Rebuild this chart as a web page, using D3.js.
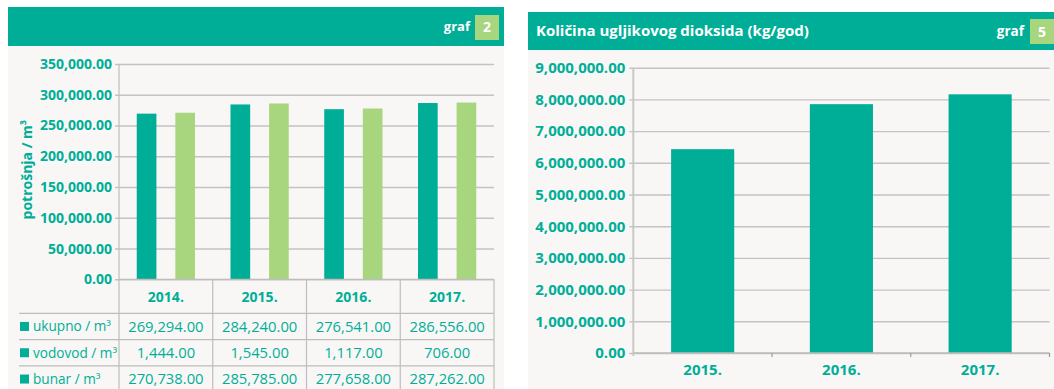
<!DOCTYPE html>
<html>
<head>
<meta charset="utf-8">
<script src="https://cdn.jsdelivr.net/npm/d3@7/dist/d3.min.js"></script>
<style>
  html, body { margin: 0; padding: 0; background: #ffffff; }
  svg { display: block; font-family: "Open Sans", "Noto Sans", sans-serif; }
</style>
</head>
<body>
<svg id="chart" width="1054" height="389"></svg>
<script>
// ---- data: graf 2 (water consumption) ----
const years = ["2014.", "2015.", "2016.", "2017."];
const ukupno = [269294, 284240, 276541, 286556];
const vodovod = [1444, 1545, 1117, 706];
const bunar = [270738, 285785, 277658, 287262];
const consumptionTicks = [0, 50000, 100000, 150000, 200000, 250000, 300000, 350000];
const tableRows = [
  { label: "ukupno / m³", values: ukupno },
  { label: "vodovod / m³", values: vodovod },
  { label: "bunar / m³", values: bunar }
];

// ---- data: graf 5 (CO2 amount) ----
const co2Years = ["2015.", "2016.", "2017."];
const co2Values = [6430000, 7850000, 8160000];
const co2Ticks = [0, 1e6, 2e6, 3e6, 4e6, 5e6, 6e6, 7e6, 8e6, 9e6];

const TEAL = "#00ae98";
const LIGHT = "#a8d67e";
const BG = "#f8f7f5";
const GRID = "#c3c3c3";
const fmt = d3.format(",.2f");

const svg = d3.select("#chart");

// ---------- panel header helper ----------
function header(x0, x1, y0, y1, title) {
  const g = svg.append("g");
  g.append("rect").attr("x", x0).attr("y", y0).attr("width", x1 - x0).attr("height", y1 - y0).attr("fill", TEAL);
  const cy = (y0 + y1) / 2;
  if (title) {
    g.append("text").attr("x", x0 + 8).attr("y", cy).attr("dy", "0.35em")
      .attr("fill", "#fff").attr("font-weight", 700).attr("font-size", 15).text(title);
  }
  return { g, cy };
}

// ================= LEFT PANEL =================
svg.append("rect").attr("x", 8).attr("y", 46).attr("width", 496).attr("height", 350).attr("fill", BG);
{
  const h = header(8, 504, 7, 46, null);
  h.g.append("rect").attr("x", 475).attr("y", 15).attr("width", 24).attr("height", 25).attr("fill", LIGHT);
  h.g.append("text").attr("x", 487).attr("y", h.cy + 1).attr("dy", "0.35em").attr("text-anchor", "middle")
    .attr("fill", "#fff").attr("font-weight", 700).attr("font-size", 14).text("2");
  h.g.append("text").attr("x", 470).attr("y", h.cy).attr("dy", "0.35em").attr("text-anchor", "end")
    .attr("fill", "#fff").attr("font-weight", 700).attr("font-size", 13).text("graf");
}

const plotL = { left: 119, right: 494, top: 64, bottom: 279.3 };
const yL = d3.scaleLinear().domain([0, 350000]).range([plotL.bottom, plotL.top]);
const xL = d3.scaleBand().domain(years).range([plotL.left, plotL.right]);
const xSub = d3.scaleBand().domain(["ukupno", "bunar"]).range([0, xL.bandwidth()])
  .paddingInner(0.49).paddingOuter(0.46);

// gridlines + tick labels (ticks reach 4px left of the axis)
const gridL = svg.append("g").attr("transform", `translate(${plotL.right},0)`)
  .call(d3.axisLeft(yL).tickValues(consumptionTicks).tickFormat(fmt)
    .tickSize(plotL.right - plotL.left + 4).tickPadding(3));
gridL.select(".domain").remove();
gridL.selectAll(".tick line").attr("stroke", GRID).attr("stroke-width", 1.4);
gridL.selectAll(".tick text").attr("fill", TEAL).attr("font-weight", 700).attr("font-size", 14)
  .attr("font-family", "'Open Sans', sans-serif");

// axis title
svg.append("text").attr("transform", `translate(27,${(plotL.top + plotL.bottom) / 2 - 2}) rotate(-90)`)
  .attr("text-anchor", "middle").attr("dy", "0.35em")
  .attr("fill", TEAL).attr("font-weight", 700).attr("font-size", 14).text("potrošnja / m³");

// bars
const series = [
  { key: "ukupno", values: ukupno, color: TEAL },
  { key: "bunar", values: bunar, color: LIGHT }
];
series.forEach(s => {
  svg.append("g").selectAll("rect").data(years).join("rect")
    .attr("x", (d) => xL(d) + xSub(s.key))
    .attr("width", xSub.bandwidth())
    .attr("y", (d, i) => yL(s.values[i]))
    .attr("height", (d, i) => yL(0) - yL(s.values[i]))
    .attr("fill", s.color);
});

// data table under the plot
const rowTop = plotL.bottom;
const headRowH = 34;
const rowH = 26.3;
const tableBottom = rowTop + headRowH + rowH * tableRows.length + 2;
const tableG = svg.append("g");
const lineStyle = sel => sel.attr("stroke", "#bdbdbd").attr("stroke-width", 1.2);

// horizontal rules
tableG.append("line").attr("x1", plotL.left).attr("x2", plotL.right).attr("y1", rowTop).attr("y2", rowTop).call(lineStyle);
tableRows.forEach((r, i) => {
  const y = rowTop + headRowH + rowH * i;
  tableG.append("line").attr("x1", 19).attr("x2", plotL.right).attr("y1", y).attr("y2", y).call(lineStyle);
});
// vertical rules
tableG.append("line").attr("x1", plotL.left).attr("x2", plotL.left).attr("y1", plotL.top).attr("y2", tableBottom).call(lineStyle);
years.forEach(yr => {
  const x = xL(yr) + xL.bandwidth();
  tableG.append("line").attr("x1", x).attr("x2", x).attr("y1", rowTop).attr("y2", tableBottom).call(lineStyle);
});
// column headers
tableG.selectAll("text.year").data(years).join("text").attr("class", "year")
  .attr("x", d => xL(d) + xL.bandwidth() / 2).attr("y", rowTop + headRowH / 2 + 1).attr("dy", "0.35em")
  .attr("text-anchor", "middle").attr("fill", TEAL).attr("font-weight", 700).attr("font-size", 14).text(d => d);
// rows
tableRows.forEach((r, i) => {
  const cy = rowTop + headRowH + rowH * i + rowH / 2;
  tableG.append("rect").attr("x", 20).attr("y", cy - 4.5).attr("width", 9).attr("height", 9).attr("fill", TEAL);
  tableG.append("text").attr("x", 33).attr("y", cy).attr("dy", "0.35em")
    .attr("fill", TEAL).attr("font-size", 13.6).text(r.label);
  tableG.selectAll(null).data(r.values).join("text")
    .attr("x", (d, j) => xL(years[j]) + xL.bandwidth() / 2).attr("y", cy).attr("dy", "0.35em")
    .attr("text-anchor", "middle").attr("fill", TEAL).attr("font-size", 14.8).text(d => fmt(d));
});

// ================= RIGHT PANEL =================
svg.append("rect").attr("x", 528).attr("y", 50).attr("width", 530).attr("height", 345).attr("fill", BG);
{
  const h = header(528, 1058, 12, 50, "Količina ugljikovog dioksida (kg/god)");
  h.g.append("rect").attr("x", 1030).attr("y", 19).attr("width", 30).attr("height", 25).attr("fill", LIGHT);
  h.g.append("text").attr("x", 1042).attr("y", h.cy + 1).attr("dy", "0.35em").attr("text-anchor", "middle")
    .attr("fill", "#fff").attr("font-weight", 700).attr("font-size", 14).text("5");
  h.g.append("text").attr("x", 1024).attr("y", h.cy).attr("dy", "0.35em").attr("text-anchor", "end")
    .attr("fill", "#fff").attr("font-weight", 700).attr("font-size", 13.5).text("graf");
}

const plotR = { left: 633.3, right: 1049.5, top: 67.7, bottom: 353 };
const yR = d3.scaleLinear().domain([0, 9e6]).range([plotR.bottom, plotR.top]);
const xR = d3.scaleBand().domain(co2Years).range([plotR.left, plotR.right])
  .paddingInner(0.545).paddingOuter(0.2725);

const gridR = svg.append("g").attr("transform", `translate(${plotR.right},0)`)
  .call(d3.axisLeft(yR).tickValues(co2Ticks).tickFormat(fmt)
    .tickSize(plotR.right - plotR.left + 4).tickPadding(4));
gridR.select(".domain").remove();
gridR.selectAll(".tick line").attr("stroke", GRID).attr("stroke-width", 1.4);
gridR.selectAll(".tick text").attr("fill", TEAL).attr("font-weight", 700).attr("font-size", 15)
  .attr("font-family", "'Open Sans', sans-serif");

// y axis line
svg.append("line").attr("x1", plotR.left).attr("x2", plotR.left).attr("y1", plotR.top).attr("y2", plotR.bottom + 3)
  .attr("stroke", "#c8c8c8").attr("stroke-width", 2);

// bars
svg.append("g").selectAll("rect").data(co2Years).join("rect")
  .attr("x", d => xR(d)).attr("width", xR.bandwidth())
  .attr("y", (d, i) => yR(co2Values[i]))
  .attr("height", (d, i) => yR(0) - yR(co2Values[i]))
  .attr("fill", TEAL);

// category axis with tick marks between categories
const step = xR.step();
svg.append("line").attr("x1", plotR.left).attr("x2", plotR.right).attr("y1", plotR.bottom).attr("y2", plotR.bottom)
  .attr("stroke", "#bdbdbd").attr("stroke-width", 1.4);
svg.append("g").selectAll("line").data(co2Years).join("line")
  .attr("x1", (d, i) => plotR.left + step * (i + 1)).attr("x2", (d, i) => plotR.left + step * (i + 1))
  .attr("y1", plotR.bottom).attr("y2", plotR.bottom + 4)
  .attr("stroke", "#9a9a9a").attr("stroke-width", 1.2);
svg.append("g").selectAll("text").data(co2Years).join("text")
  .attr("x", d => xR(d) + xR.bandwidth() / 2).attr("y", plotR.bottom + 17).attr("dy", "0.35em")
  .attr("text-anchor", "middle").attr("fill", TEAL).attr("font-weight", 700).attr("font-size", 15).text(d => d);
</script>
</body>
</html>
